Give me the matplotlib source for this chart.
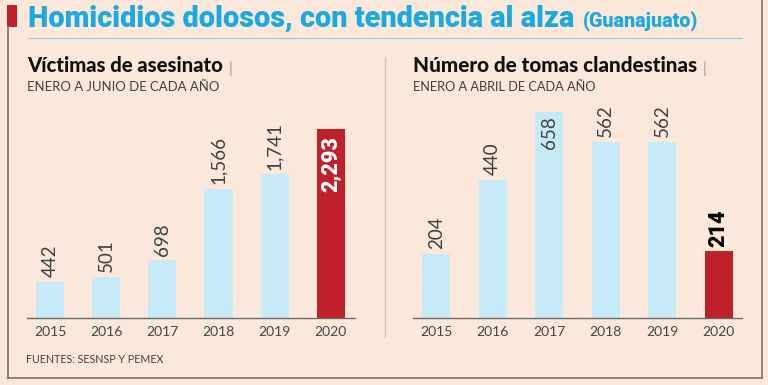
import matplotlib
matplotlib.use("Agg")
import matplotlib.pyplot as plt
from matplotlib.patches import Rectangle
from matplotlib.lines import Line2D

# ---- data ----
years = ["2015", "2016", "2017", "2018", "2019", "2020"]
victimas = [442, 501, 698, 1566, 1741, 2293]
tomas = [204, 440, 658, 562, 562, 214]
victimas_labels = ["442", "501", "698", "1,566", "1,741", "2,293"]
tomas_labels = ["204", "440", "658", "562", "562", "214"]

title = "Homicidios dolosos, con tendencia al alza"
title_extra = "(Guanajuato)"
left_title = "Víctimas de asesinato"
left_sub = "ENERO A JUNIO DE CADA AÑO"
right_title = "Número de tomas clandestinas"
right_sub = "ENERO A ABRIL DE CADA AÑO"
source = "FUENTES: SESNSP Y PEMEX"

BG = "#FBE8DB"
BLUE_BAR = "#C6E9F8"
RED = "#C0202A"
TITLE_BLUE = "#1AA9E1"
FRAME = "#7d6e66"
GRAY_TXT = "#3f3f3f"

plt.rcParams['font.family'] = ['Lato', 'DejaVu Sans']
HEAVY = ['Roboto', 'Lato', 'DejaVu Sans']

W, H = 768, 385
fig = plt.figure(figsize=(W / 100, H / 100), dpi=100, facecolor=BG)

def fx(px):
    return px / W

def fy(py):
    return 1 - py / H

renderer = fig.canvas.get_renderer()

def fit(t, width_px):
    bb = t.get_window_extent(renderer)
    t.set_fontsize(t.get_fontsize() * width_px / bb.width)
    return t

# frame lines
fig.add_artist(Line2D([fx(7.5), fx(7.5)], [fy(26), fy(377.5)], color=FRAME, lw=1.2))
fig.add_artist(Line2D([fx(7.5), fx(761.5)], [fy(377.5), fy(377.5)], color=FRAME, lw=1.2))
fig.add_artist(Line2D([fx(761.5), fx(761.5)], [fy(0), fy(377.5)], color=FRAME, lw=1.2))
fig.add_artist(Rectangle((fx(7), fy(26.5)), fx(10), 21.5 / H, color=RED, lw=0))
# title underline
fig.add_artist(Line2D([fx(28), fx(742)], [fy(37.5), fy(37.5)], color="#8ccfe9", lw=0.9))
# separator
fig.add_artist(Line2D([fx(385), fx(385)], [fy(58), fy(337)], color="#cfc3bb", lw=1.0))

# title
t = fig.text(fx(28), fy(27), title, fontsize=19, fontweight='black', color=TITLE_BLUE,
             va='baseline', ha='left', family=HEAVY)
fit(t, 548)
t2 = fig.text(fx(583), fy(27), title_extra, fontsize=12, fontweight='black',
              color=TITLE_BLUE, va='baseline', ha='left', family=HEAVY)
fit(t2, 115)

# subtitles
for x0, ttl, ttl_w, sub, sub_w in [(27, left_title, 195, left_sub, 193),
                                    (413, right_title, 283, right_sub, 185)]:
    st = fig.text(fx(x0), fy(72), ttl, fontsize=13, fontweight='black', color="#111111",
                  va='baseline', ha='left')
    fit(st, ttl_w)
    fig.text(fx(x0 + ttl_w + 7), fy(72.5), "|", fontsize=11, color="#999999",
             va='baseline', ha='left')
    ss = fig.text(fx(x0), fy(91), sub, fontsize=9.5, color=GRAY_TXT,
                  va='baseline', ha='left')
    fit(ss, sub_w)

src = fig.text(fx(26), fy(363), source, fontsize=9, color=GRAY_TXT,
               va='baseline', ha='left')
fit(src, 136)

# axes geometry
top_px, base_px = 100, 318
def make_ax(left_px, width_px):
    ax = fig.add_axes([fx(left_px), fy(base_px), width_px / W, (base_px - top_px) / H])
    ax.set_facecolor('none')
    for s in ['top', 'right', 'left']:
        ax.spines[s].set_visible(False)
    ax.spines['bottom'].set_color("#6b6b6b")
    ax.spines['bottom'].set_linewidth(1.0)
    ax.tick_params(axis='x', length=0, pad=6, labelsize=10, labelcolor="#444444")
    ax.set_yticks([])
    return ax

px_per_unit_left = 189 / 2293
px_per_unit_right = 206 / 658

axL = make_ax(27, 328)
axL.set_xlim(-0.41, 5.43)
axL.set_ylim(0, (base_px - top_px) / px_per_unit_left)
colorsL = [BLUE_BAR] * 5 + [RED]
axL.bar(range(6), victimas, width=0.5, color=colorsL)
axL.set_xticks(range(6))
axL.set_xticklabels(years)

axR = make_ax(413, 329)
axR.set_xlim(-0.41, 5.41)
axR.set_ylim(0, (base_px - top_px) / px_per_unit_right)
axR.bar(range(6), tomas, width=0.5, color=colorsL)
axR.set_xticks(range(6))
axR.set_xticklabels(years)

# value labels
for i, (v, lab) in enumerate(zip(victimas, victimas_labels)):
    if i == 5:
        axL.annotate(lab, (i, v), xytext=(0, -5), textcoords='offset points', rotation=90,
                     ha='center', va='top', fontsize=15.5, fontweight='black', color='white',
                     family=HEAVY)
    else:
        axL.annotate(lab, (i, v), xytext=(0, 3.5), textcoords='offset points', rotation=90,
                     ha='center', va='bottom', fontsize=13.5, color=GRAY_TXT)

for i, (v, lab) in enumerate(zip(tomas, tomas_labels)):
    if i == 5:
        axR.annotate(lab, (i, v), xytext=(0, 3), textcoords='offset points', rotation=90,
                     ha='center', va='bottom', fontsize=15.5, fontweight='black', color='black',
                     family=HEAVY)
    elif v == max(tomas):
        axR.annotate(lab, (i, v), xytext=(0, -3), textcoords='offset points', rotation=90,
                     ha='center', va='top', fontsize=13.5, color=GRAY_TXT)
    else:
        axR.annotate(lab, (i, v), xytext=(0, 3.5), textcoords='offset points', rotation=90,
                     ha='center', va='bottom', fontsize=13.5, color=GRAY_TXT)

fig.savefig("out.png", dpi=100, facecolor=BG)
